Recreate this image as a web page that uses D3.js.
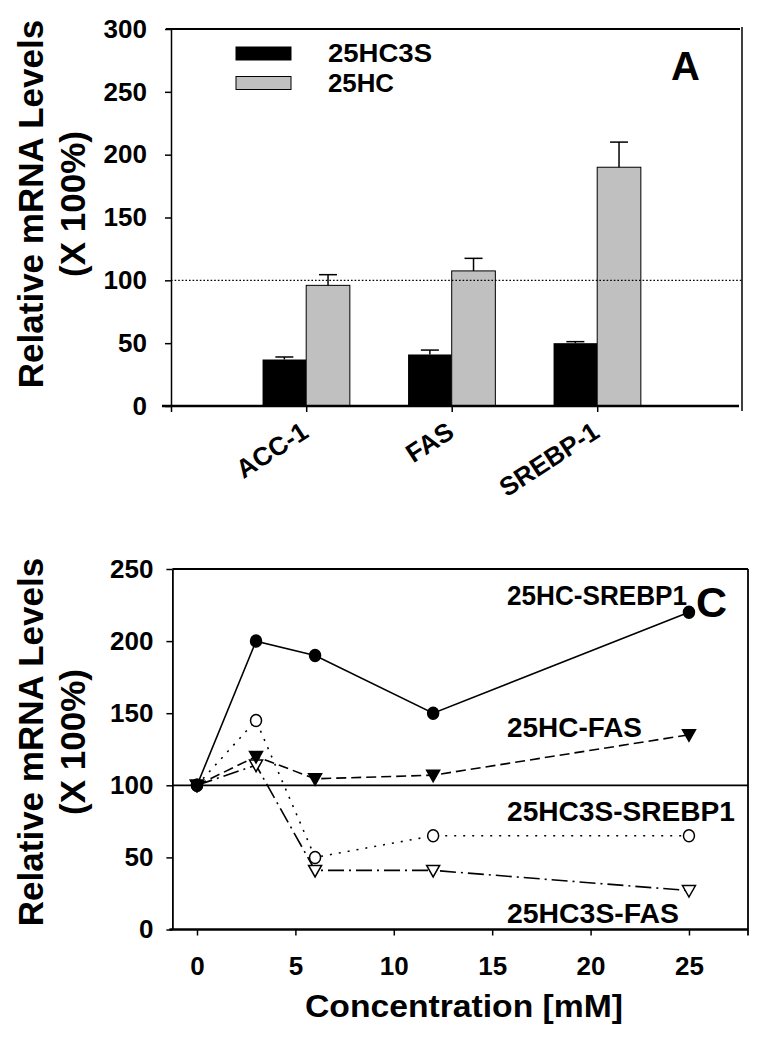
<!DOCTYPE html>
<html>
<head>
<meta charset="utf-8">
<script src="https://cdn.jsdelivr.net/npm/d3@7/dist/d3.min.js"></script>
<style>
  html, body { margin: 0; padding: 0; background: #fff; }
  svg text { font-family: "Liberation Sans", Arial, sans-serif; font-weight: bold; fill: #000; }
</style>
</head>
<body>
<svg id="chart" width="764" height="1041"></svg>
<script>
// ---------- Panel A data ----------
const categories = ["ACC-1", "FAS", "SREBP-1"];
const hc3sValues = [37, 41, 50];
const hc3sErrors = [2, 3.5, 1.2];
const hcValues = [96, 107.5, 190];
const hcErrors = [8.5, 10, 20];
const seriesNamesA = ["25HC3S", "25HC"];
const yTicksA = [0, 50, 100, 150, 200, 250, 300];

// ---------- Panel C data ----------
const concentrations = [0, 3, 6, 12, 25];
const hcSrebp1 = [100, 200, 190, 150, 220];
const hcFas = [100, 120, 104.5, 107, 135];
const hc3sSrebp1 = [100, 145, 50, 65, 65];
const hc3sFas = [100, 114, 41, 41, 27];
const seriesNamesC = ["25HC-SREBP1", "25HC-FAS", "25HC3S-SREBP1", "25HC3S-FAS"];
const yTicksC = [0, 50, 100, 150, 200, 250];
const xTicksC = [0, 5, 10, 15, 20, 25];

const svg = d3.select("#chart");
const FONT = "Liberation Sans, Arial, sans-serif";

// ================= Panel A =================
const xA = d3.scaleLinear().domain([0, 4]).range([160.7, 742.7]);
const yA = d3.scaleLinear().domain([0, 300]).range([406, 29]);
const frameLeftA = 171, frameRightA = 742;
const barW = 0.3;
const gA = svg.append("g");

categories.forEach((c, i) => {
  const cx = i + 1;
  gA.append("rect")
    .attr("x", xA(cx - barW)).attr("y", yA(hc3sValues[i]))
    .attr("width", xA(cx) - xA(cx - barW)).attr("height", yA(0) - yA(hc3sValues[i]))
    .attr("fill", "#000");
  const ex1 = xA(cx - barW / 2);
  gA.append("line").attr("x1", ex1).attr("x2", ex1)
    .attr("y1", yA(hc3sValues[i])).attr("y2", yA(hc3sValues[i] + hc3sErrors[i]))
    .attr("stroke", "#000").attr("stroke-width", 1.5);
  gA.append("line").attr("x1", ex1 - 9).attr("x2", ex1 + 9)
    .attr("y1", yA(hc3sValues[i] + hc3sErrors[i])).attr("y2", yA(hc3sValues[i] + hc3sErrors[i]))
    .attr("stroke", "#000").attr("stroke-width", 1.5);
  gA.append("rect")
    .attr("x", xA(cx)).attr("y", yA(hcValues[i]))
    .attr("width", xA(cx + barW) - xA(cx)).attr("height", yA(0) - yA(hcValues[i]))
    .attr("fill", "#c0c0c0").attr("stroke", "#000").attr("stroke-width", 1);
  const ex2 = xA(cx + barW / 2);
  gA.append("line").attr("x1", ex2).attr("x2", ex2)
    .attr("y1", yA(hcValues[i])).attr("y2", yA(hcValues[i] + hcErrors[i]))
    .attr("stroke", "#000").attr("stroke-width", 1.5);
  gA.append("line").attr("x1", ex2 - 9).attr("x2", ex2 + 9)
    .attr("y1", yA(hcValues[i] + hcErrors[i])).attr("y2", yA(hcValues[i] + hcErrors[i]))
    .attr("stroke", "#000").attr("stroke-width", 1.5);
});

gA.append("line").attr("x1", frameLeftA).attr("x2", frameRightA)
  .attr("y1", yA(100)).attr("y2", yA(100))
  .attr("stroke", "#000").attr("stroke-width", 1.4).attr("stroke-dasharray", "1.6,2");

gA.append("line").attr("x1", frameLeftA - 5).attr("x2", frameRightA - 2)
  .attr("y1", yA(300)).attr("y2", yA(300)).attr("stroke", "#000").attr("stroke-width", 2.2);
gA.append("line").attr("x1", frameRightA).attr("x2", frameRightA)
  .attr("y1", yA(300) - 2).attr("y2", yA(0) + 5).attr("stroke", "#000").attr("stroke-width", 1.5);

const yAxisA = gA.append("g").attr("transform", `translate(${frameLeftA},0)`)
  .call(d3.axisLeft(yA).tickValues(yTicksA).tickSize(6).tickPadding(18).tickSizeOuter(0));
yAxisA.select(".domain").attr("stroke-width", 1.5);
yAxisA.selectAll(".tick line").attr("stroke-width", 1.5);
yAxisA.selectAll(".tick text").attr("font-size", 26).attr("font-family", FONT).attr("font-weight", "bold");

const xAxisA = gA.append("g").attr("transform", `translate(0,${yA(0)})`)
  .call(d3.axisBottom(xA).tickValues([xA.invert(frameLeftA), 1, 2, 3]).tickFormat("").tickSize(6).tickSizeOuter(0));
xAxisA.select(".domain").remove();
xAxisA.selectAll(".tick line").attr("stroke-width", 1.5);
gA.append("line").attr("x1", frameLeftA - 9).attr("x2", frameRightA - 3)
  .attr("y1", yA(0)).attr("y2", yA(0)).attr("stroke", "#000").attr("stroke-width", 2.5);

categories.forEach((c, i) => {
  gA.append("text")
    .attr("transform", `translate(${xA(i + 1) + 4},${yA(0) + 30}) rotate(-33)`)
    .attr("text-anchor", "end").attr("font-size", 26).text(c);
});

const legendY = [54, 83.5];
seriesNamesA.forEach((n, i) => {
  gA.append("rect").attr("x", 236).attr("y", legendY[i] - 7).attr("width", 55).attr("height", 13)
    .attr("fill", i === 0 ? "#000" : "#c0c0c0").attr("stroke", "#000").attr("stroke-width", 1);
  gA.append("text").attr("x", 328).attr("y", legendY[i] + 8).attr("font-size", 26)
    .attr("textLength", i === 0 ? 104 : 66).attr("lengthAdjust", "spacingAndGlyphs").text(n);
});

gA.append("text").attr("x", 671).attr("y", 80).attr("font-size", 40).text("A");

[["Relative mRNA Levels", 43], ["(X 100%)", 85]].forEach(([t, bx]) => {
  gA.append("text").attr("transform", `translate(${bx},204) rotate(-90)`)
    .attr("text-anchor", "middle").attr("font-size", 35).text(t);
});

// ================= Panel C =================
const xC = d3.scaleLinear().domain([-1.25, 28]).range([172.4, 748]);
const yC = d3.scaleLinear().domain([0, 250]).range([929.5, 569]);
const gC = svg.append("g");

gC.append("line").attr("x1", xC(-1.25)).attr("x2", xC(28))
  .attr("y1", yC(100)).attr("y2", yC(100)).attr("stroke", "#000").attr("stroke-width", 1.8);

gC.append("line").attr("x1", xC(-1.25)).attr("x2", xC(28))
  .attr("y1", yC(250)).attr("y2", yC(250)).attr("stroke", "#000").attr("stroke-width", 1.8);
gC.append("line").attr("x1", xC(28)).attr("x2", xC(28))
  .attr("y1", yC(250)).attr("y2", yC(0) + 6).attr("stroke", "#000").attr("stroke-width", 1.8);

const yAxisC = gC.append("g").attr("transform", `translate(${xC(-1.25)},0)`)
  .call(d3.axisLeft(yC).tickValues(yTicksC).tickSize(6).tickPadding(13).tickSizeOuter(0));
yAxisC.select(".domain").attr("stroke-width", 1.8);
yAxisC.selectAll(".tick line").attr("stroke-width", 1.5);
yAxisC.selectAll(".tick text").attr("font-size", 26).attr("font-family", FONT).attr("font-weight", "bold");

const xAxisC = gC.append("g").attr("transform", `translate(0,${yC(0)})`)
  .call(d3.axisBottom(xC).tickValues(xTicksC).tickSize(6).tickPadding(21).tickSizeOuter(0));
xAxisC.select(".domain").remove();
xAxisC.selectAll(".tick line").attr("stroke-width", 1.5);
xAxisC.selectAll(".tick text").attr("font-size", 26).attr("font-family", FONT).attr("font-weight", "bold");
gC.append("line").attr("x1", xC(-1.25) - 3).attr("x2", xC(28))
  .attr("y1", yC(0)).attr("y2", yC(0)).attr("stroke", "#000").attr("stroke-width", 2.5);

const line = d3.line().x(d => xC(d[0])).y(d => yC(d[1]));
const seriesC = [
  { vals: hcSrebp1, dash: null, marker: "circle", fill: "#000" },
  { vals: hcFas, dash: "10,5", marker: "tri", fill: "#000" },
  { vals: hc3sSrebp1, dash: "2,7", marker: "circle", fill: "#fff" },
  { vals: hc3sFas, dash: "16,5,2,5", marker: "tri", fill: "#fff" }
];
seriesC.forEach(s => {
  const pts = concentrations.map((c, i) => [c, s.vals[i]]);
  gC.append("path").attr("d", line(pts)).attr("fill", "none").attr("stroke", "#000")
    .attr("stroke-width", 1.6).attr("stroke-dasharray", s.dash);
});
seriesC.slice().reverse().forEach(s => {
  concentrations.forEach((c, i) => {
    const px = xC(c), py = yC(s.vals[i]);
    if (s.marker === "circle") {
      gC.append("ellipse").attr("cx", px).attr("cy", py).attr("rx", 5.5).attr("ry", 6)
        .attr("fill", s.fill).attr("stroke", "#000").attr("stroke-width", 1.5);
    } else {
      gC.append("path").attr("d", `M${px - 6.5},${py - 5}L${px + 6.5},${py - 5}L${px},${py + 6.5}Z`)
        .attr("fill", s.fill).attr("stroke", "#000").attr("stroke-width", 1.5);
    }
  });
});

const labelPos = [[507, 605], [507, 737], [507, 821], [507, 923]];
const labelLen = [180, 135, 228, 172];
seriesNamesC.forEach((n, i) => {
  gC.append("text").attr("x", labelPos[i][0]).attr("y", labelPos[i][1])
    .attr("font-size", 27).attr("textLength", labelLen[i]).attr("lengthAdjust", "spacingAndGlyphs").text(n);
});
gC.append("text").attr("x", 696).attr("y", 617).attr("font-size", 43).text("C");

[["Relative mRNA Levels", 43], ["(X 100%)", 85]].forEach(([t, bx]) => {
  gC.append("text").attr("transform", `translate(${bx},742) rotate(-90)`)
    .attr("text-anchor", "middle").attr("font-size", 35).text(t);
});
gC.append("text").attr("x", (305 + 623) / 2).attr("y", 1017).attr("text-anchor", "middle")
  .attr("font-size", 32).attr("textLength", 318).attr("lengthAdjust", "spacingAndGlyphs").text("Concentration [mM]");
</script>
</body>
</html>
